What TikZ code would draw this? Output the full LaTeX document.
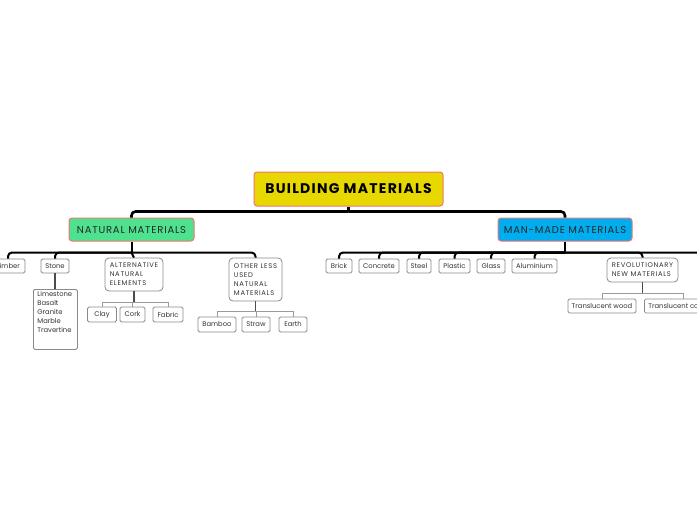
\documentclass[tikz,border=0pt]{standalone}
\usepackage{fontspec}
\setmainfont{Poppins}
\newfontfamily\widefont[LetterSpace=8]{Poppins}
\newfontfamily\capsfont[LetterSpace=10]{Poppins}
\newfontfamily\titlefont[LetterSpace=9]{Poppins}
\definecolor{rootfill}{HTML}{E6D800}
\definecolor{natfill}{HTML}{4FE28E}
\definecolor{manfill}{HTML}{00AEEF}
\definecolor{salmon}{HTML}{F27474}
\definecolor{boxgray}{HTML}{8A8A8A}
\definecolor{twiggray}{HTML}{9A9A9A}
\definecolor{txt}{HTML}{333333}
\begin{document}
\begin{tikzpicture}[x=1pt,y=-1pt,
  every node/.style={inner sep=0pt, font=\fontsize{6.8}{9}\selectfont, text=txt},
  leaf/.style={draw=boxgray, fill=white, rounded corners=1.5pt, minimum height=14pt, line width=0.8pt},
  group/.style={draw=boxgray, fill=white, rounded corners=4pt, line width=0.8pt, align=left, font=\capsfont\fontsize{6.8}{9}\selectfont},
  topic/.style={draw=salmon, rounded corners=3pt, line width=1pt, minimum height=23pt, font=\widefont\fontsize{10}{12}\selectfont, text=black!85},
  mainline/.style={line width=2.6pt, rounded corners=4pt},
  subline/.style={line width=2pt, rounded corners=4pt},
  twig/.style={draw=twiggray, line width=0.8pt},
  trunk/.style={draw=black!70, line width=1.2pt}]
\useasboundingbox (0,0) rectangle (697,520);
\clip (0,0) rectangle (697,520);

% root and main topics
\node[draw=salmon, fill=rootfill, rounded corners=3pt, line width=1pt, minimum width=189pt, minimum height=34pt, font=\titlefont\fontsize{14}{16}\selectfont\bfseries, text=black] (root) at (348.5,189) {BUILDING MATERIALS};
\node[topic, fill=natfill, minimum width=125pt] (nat) at (131.5,229.5) {NATURAL MATERIALS};
\node[topic, fill=manfill, minimum width=134pt] (man) at (565,229.5) {MAN-MADE MATERIALS};

% natural children
\node[leaf, minimum width=34pt] (timber) at (8,266) {Timber};
\node[leaf, minimum width=28pt] (stone) at (55,266) {Stone};
\node[group, minimum width=58pt, minimum height=33pt] (alt) at (134,274.5) {ALTERNATIVE\\NATURAL\\ELEMENTS};
\node[group, minimum width=53pt, minimum height=43pt] (other) at (255.5,279.5) {OTHER LESS\\USED\\NATURAL\\MATERIALS};
\node[draw=boxgray, fill=white, rounded corners=1.5pt, line width=0.8pt, anchor=north west] (stonelist) at (33,289)
  {\parbox[t][60pt][t]{44pt}{\raggedright\vspace{2pt}\hspace*{4pt}Limestone\\\hspace*{4pt}Basalt\\\hspace*{4pt}Granite\\\hspace*{4pt}Marble\\\hspace*{4pt}Travertine}};
\node[leaf, minimum width=29pt, minimum height=15pt] (clay) at (102,314.5) {Clay};
\node[leaf, minimum width=25pt, minimum height=15pt] (cork) at (132.5,314.5) {Cork};
\node[leaf, minimum width=30pt, minimum height=15pt] (fabric) at (168,314.5) {Fabric};
\node[leaf, minimum width=38pt, minimum height=15pt] (bamboo) at (217,324.5) {Bamboo};
\node[leaf, minimum width=28pt, minimum height=15pt] (straw) at (256,324.5) {Straw};
\node[leaf, minimum width=28pt, minimum height=15pt] (earth) at (293,324.5) {Earth};

% man-made children
\node[leaf, minimum width=26pt] (brick) at (339,266) {Brick};
\node[leaf, minimum width=40pt] (concrete) at (379,266) {Concrete};
\node[leaf, minimum width=24pt] (steel) at (419,266) {Steel};
\node[leaf, minimum width=31pt] (plastic) at (454.5,266) {Plastic};
\node[leaf, minimum width=28pt] (glass) at (491,266) {Glass};
\node[leaf, minimum width=45pt] (alum) at (534.5,266) {Aluminium};
\node[group, minimum width=71pt, minimum height=24pt] (revo) at (642.5,270) {REVOLUTIONARY\\NEW MATERIALS};
\node[leaf, minimum width=68pt] (twood) at (602,306) {Translucent wood};
\node[leaf, minimum width=80pt, anchor=west] (tconc) at (644,306) {Translucent concrete};
\coordinate (manmore) at (705,259);

% junctions
\coordinate (rootj) at ([yshift=-5pt]root.south);
\coordinate (natj) at ([yshift=-11pt]nat.south);
\coordinate (manj) at ([yshift=-11pt]man.south);

% connectors
\draw[mainline] (root.south) -- (rootj);
\draw[mainline] (rootj) -| (nat.north);
\draw[mainline] (rootj) -| (man.north);

\draw[subline] (nat.south) -- (natj);
\foreach \c in {timber,stone,other}
  \draw[subline] (natj) -| (\c.north);
\draw[subline] (natj) -- (alt.north);
\draw[subline] (man.south) -- (manj);
\foreach \c in {brick,concrete,steel,plastic,glass,alum,revo,manmore}
  \draw[subline] (manj) -| (\c.north);

\draw[trunk] (stone.south) -- (stone.south |- stonelist.north);
\draw[trunk] (alt.south) -- ++(0,11);
\foreach \c in {clay,cork,fabric}
  \draw[twig] ([yshift=-11pt]alt.south) -| (\c.north);
\draw[trunk] (other.south) -- ++(0,10);
\foreach \c in {bamboo,straw,earth}
  \draw[twig] ([yshift=-10pt]other.south) -| (\c.north);
\draw[trunk] (revo.south) -- ++(0,11);
\draw[twig] ([yshift=-11pt]revo.south) -| (twood.north);
\draw[twig] ([yshift=-11pt]revo.south) -| ([xshift=-1pt]tconc.north);
\end{tikzpicture}
\end{document}
